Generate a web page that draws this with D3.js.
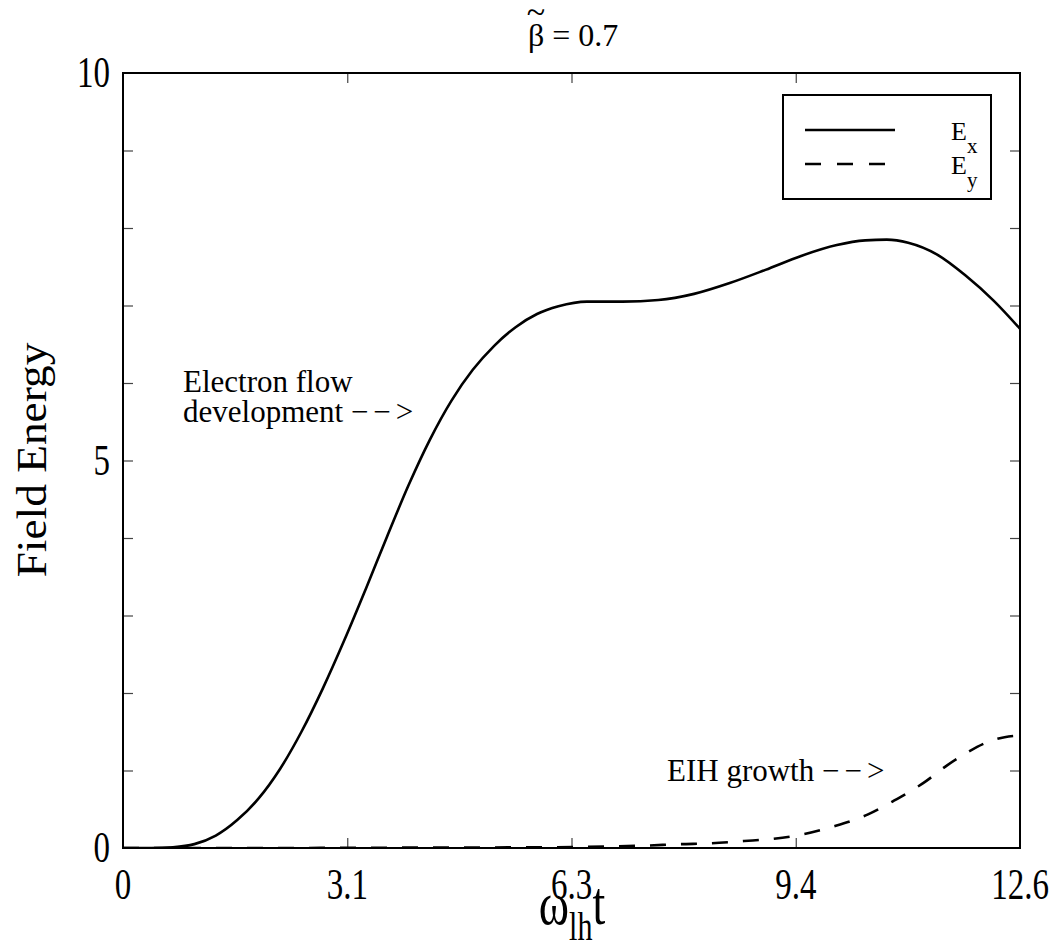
<!DOCTYPE html>
<html>
<head>
<meta charset="utf-8">
<script src="https://cdn.jsdelivr.net/npm/d3@7"></script>
<style>
  html, body { margin: 0; padding: 0; background: #fff; }
  svg text { font-family: "Liberation Serif", "DejaVu Serif", "Times New Roman", serif; fill: #000; }
</style>
</head>
<body>
<svg id="chart" width="1057" height="948"></svg>
<script>
// Time samples (omega_lh t) and field energy of each component
const timeEx = [0, 0.4, 0.7, 1.0, 1.3, 1.6, 1.9, 2.2, 2.5, 2.8, 3.1, 3.4, 3.7, 4.0, 4.3, 4.6, 4.9, 5.2, 5.5, 5.8, 6.1, 6.5, 7.0, 7.5, 8.0, 8.5, 9.0, 9.5, 10.0, 10.4, 10.7, 11.0, 11.4, 11.8, 12.2, 12.566];
const energyEx = [0, 0, 0.01, 0.05, 0.16, 0.36, 0.64, 1.02, 1.5, 2.06, 2.68, 3.34, 4.02, 4.68, 5.27, 5.77, 6.17, 6.48, 6.72, 6.89, 6.99, 7.05, 7.05, 7.07, 7.15, 7.29, 7.46, 7.64, 7.78, 7.84, 7.85, 7.81, 7.66, 7.39, 7.06, 6.7];

const timeEy = [0, 2.0, 4.0, 6.0, 6.82, 7.29, 7.81, 8.23, 8.70, 9.12, 9.49, 9.96, 10.43, 10.80, 11.23, 11.55, 11.84, 12.12, 12.35, 12.566];
const energyEy = [0, 0, 0.005, 0.01, 0.02, 0.03, 0.05, 0.06, 0.09, 0.12, 0.17, 0.28, 0.43, 0.61, 0.85, 1.07, 1.24, 1.37, 1.43, 1.45];

const xTickValues = [0, Math.PI, 2 * Math.PI, 3 * Math.PI, 4 * Math.PI];
const xTickLabels = ["0", "3.1", "6.3", "9.4", "12.6"];
const yMinorTicks = [1, 2, 3, 4, 5, 6, 7, 8, 9];
const yTickValues = [0, 5, 10];
const yTickLabels = ["0", "5", "10"];

const seriesNames = ["E", "E"];
const seriesSubs = ["x", "y"];

const margin = { left: 123, right: 37, top: 73, bottom: 100 };
const W = 1057, H = 948;
const plotW = W - margin.left - margin.right;
const plotH = H - margin.top - margin.bottom;

const svg = d3.select("#chart");
const g = svg.append("g").attr("transform", `translate(${margin.left},${margin.top})`);

const x = d3.scaleLinear().domain([0, 4 * Math.PI]).range([0, plotW]);
const y = d3.scaleLinear().domain([0, 10]).range([plotH, 0]);

// Inward tick marks on all four sides
const tickLen = 10;
const noDomain = sel => sel.selectAll(".domain").remove();
const innerX = xTickValues.slice(1, -1);

g.append("g").attr("transform", `translate(0,${plotH})`)
  .call(d3.axisBottom(x).tickValues(innerX).tickSizeInner(-tickLen).tickSizeOuter(0).tickFormat(""))
  .call(noDomain);
g.append("g")
  .call(d3.axisTop(x).tickValues(innerX).tickSizeInner(-tickLen).tickSizeOuter(0).tickFormat(""))
  .call(noDomain);
g.append("g")
  .call(d3.axisLeft(y).tickValues(yMinorTicks).tickSizeInner(-tickLen).tickSizeOuter(0).tickFormat(""))
  .call(noDomain);
g.append("g").attr("transform", `translate(${plotW},0)`)
  .call(d3.axisRight(y).tickValues(yMinorTicks).tickSizeInner(-tickLen).tickSizeOuter(0).tickFormat(""))
  .call(noDomain);
g.selectAll(".tick line").attr("stroke", "#444").attr("stroke-width", 1.2);

// Tick labels (tall, narrow numerals)
g.append("g").selectAll("text").data(xTickValues).join("text")
  .attr("transform", d => `translate(${x(d)},${plotH + 51}) scale(1,1.35)`)
  .attr("text-anchor", "middle").attr("font-size", 33)
  .text((d, i) => xTickLabels[i]);
g.append("g").selectAll("text").data(yTickValues).join("text")
  .attr("transform", d => `translate(-13,${y(d) + 14}) scale(1,1.35)`)
  .attr("text-anchor", "end").attr("font-size", 33)
  .text((d, i) => yTickLabels[i]);

// Curves
const line = d3.line().x(d => x(d[0])).y(d => y(d[1])).curve(d3.curveMonotoneX);
g.append("clipPath").attr("id", "plotclip").append("rect")
  .attr("width", plotW).attr("height", plotH);

g.append("path").datum(d3.zip(timeEx, energyEx))
  .attr("d", line).attr("fill", "none").attr("stroke", "#000").attr("stroke-width", 2.6)
  .attr("clip-path", "url(#plotclip)");
g.append("path").datum(d3.zip(timeEy, energyEy))
  .attr("d", line).attr("fill", "none").attr("stroke", "#000").attr("stroke-width", 2.6)
  .attr("stroke-dasharray", "16,15").attr("clip-path", "url(#plotclip)");

// Frame
g.append("rect").attr("width", plotW).attr("height", plotH)
  .attr("fill", "none").attr("stroke", "#000").attr("stroke-width", 2);

// Legend
const lg = g.append("g").attr("transform", `translate(${783 - margin.left},${95 - margin.top})`);
lg.append("rect").attr("width", 208).attr("height", 104)
  .attr("fill", "#fff").attr("stroke", "#000").attr("stroke-width", 2);
[0, 1].forEach(i => {
  const ly = 35 + i * 34;
  lg.append("line").attr("x1", 22).attr("x2", 112).attr("y1", ly).attr("y2", ly)
    .attr("stroke", "#000").attr("stroke-width", 2.6)
    .attr("stroke-dasharray", i === 1 ? "16,16" : null);
  const t = lg.append("text").attr("x", 168).attr("y", ly + 10).attr("font-size", 26);
  t.append("tspan").text(seriesNames[i]);
  t.append("tspan").attr("dy", 13).attr("font-size", 21).text(seriesSubs[i]);
});

// Annotations
const flow = g.append("text").attr("font-size", 31);
flow.append("tspan").attr("x", 183 - margin.left).attr("y", 392 - margin.top).text("Electron flow");
const flow2 = flow.append("tspan").attr("x", 183 - margin.left).attr("y", 422 - margin.top);
flow2.append("tspan").text("development ");
flow2.append("tspan").attr("letter-spacing", 5).text("\u2212\u2212>");

const eih = g.append("text").attr("x", 667 - margin.left).attr("y", 781 - margin.top).attr("font-size", 31);
eih.append("tspan").text("EIH growth ");
eih.append("tspan").attr("letter-spacing", 5).text("\u2212\u2212>");

// Axis titles
const xl = svg.append("text").attr("transform", "translate(572,924) scale(1,1.35)")
  .attr("text-anchor", "middle").attr("font-size", 46);
xl.append("tspan").text("ω");
xl.append("tspan").attr("dy", 12).attr("font-size", 30).text("lh");
xl.append("tspan").attr("dy", -12).text("t");

svg.append("text").attr("transform", "translate(46,460) rotate(-90) scale(1.08,1)")
  .attr("text-anchor", "middle").attr("font-size", 42).text("Field Energy");

// Title: beta with a tilde accent centred above it
const title = svg.append("text").attr("y", 46).attr("font-size", 32);
const tBeta = title.append("tspan").text("β");
const tTilde = title.append("tspan").attr("font-size", 34).text("~");
const tRest = title.append("tspan").text(" = 0.7");
const wb = tBeta.node().getComputedTextLength();
const wt = tTilde.node().getComputedTextLength();
const wr = tRest.node().getComputedTextLength();
title.attr("x", 572 - (wb + wr) / 2);
tTilde.attr("dx", -(wb + wt) / 2).attr("dy", -23);
tRest.attr("dx", (wb - wt) / 2).attr("dy", 23);
</script>
</body>
</html>
